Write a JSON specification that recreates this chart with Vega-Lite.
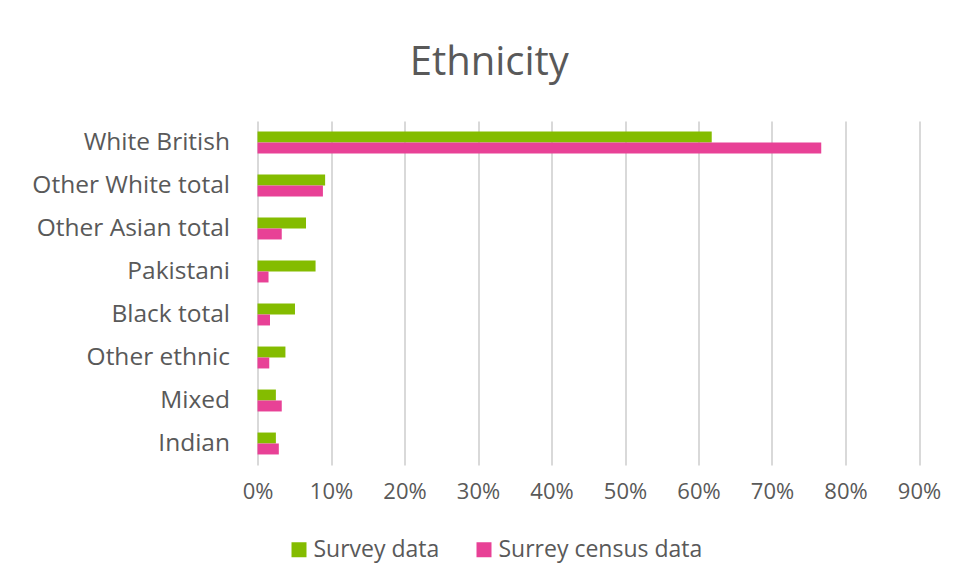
{
  "$schema": "https://vega.github.io/schema/vega-lite/v6.json",
  "autosize": "none",
  "width": 661.5,
  "height": 344,
  "padding": {"left": 257.5, "top": 121, "right": 39, "bottom": 116},
  "background": "white",
  "title": {
    "text": "Ethnicity",
    "fontSize": 40,
    "font": "Open Sans",
    "fontWeight": "normal",
    "color": "#595959",
    "anchor": "middle",
    "dx": -99,
    "offset": 38
  },
  "data": {
    "values": [
      {"ethnicity": "White British", "series": "Survey data", "value": 0.618},
      {"ethnicity": "White British", "series": "Surrey census data", "value": 0.767},
      {"ethnicity": "Other White total", "series": "Survey data", "value": 0.092},
      {"ethnicity": "Other White total", "series": "Surrey census data", "value": 0.089},
      {"ethnicity": "Other Asian total", "series": "Survey data", "value": 0.066},
      {"ethnicity": "Other Asian total", "series": "Surrey census data", "value": 0.033},
      {"ethnicity": "Pakistani", "series": "Survey data", "value": 0.079},
      {"ethnicity": "Pakistani", "series": "Surrey census data", "value": 0.015},
      {"ethnicity": "Black total", "series": "Survey data", "value": 0.051},
      {"ethnicity": "Black total", "series": "Surrey census data", "value": 0.017},
      {"ethnicity": "Other ethnic", "series": "Survey data", "value": 0.038},
      {"ethnicity": "Other ethnic", "series": "Surrey census data", "value": 0.016},
      {"ethnicity": "Mixed", "series": "Survey data", "value": 0.025},
      {"ethnicity": "Mixed", "series": "Surrey census data", "value": 0.033},
      {"ethnicity": "Indian", "series": "Survey data", "value": 0.025},
      {"ethnicity": "Indian", "series": "Surrey census data", "value": 0.029}
    ]
  },
  "mark": {"type": "bar"},
  "encoding": {
    "y": {
      "field": "ethnicity",
      "type": "nominal",
      "sort": ["White British", "Other White total", "Other Asian total", "Pakistani", "Black total", "Other ethnic", "Mixed", "Indian"],
      "scale": {"paddingInner": 0.49, "paddingOuter": 0.245},
      "axis": {
        "title": null,
        "ticks": false,
        "domain": false,
        "labelFontSize": 24.5,
        "labelFont": "Open Sans",
        "labelColor": "#595959",
        "labelPadding": 28,
        "labelLimit": 300
      }
    },
    "yOffset": {
      "field": "series",
      "type": "nominal",
      "sort": ["Survey data", "Surrey census data"]
    },
    "x": {
      "field": "value",
      "type": "quantitative",
      "scale": {"domain": [0, 0.9], "nice": false},
      "axis": {
        "title": null,
        "format": ".0%",
        "values": [0, 0.1, 0.2, 0.3, 0.4, 0.5, 0.6, 0.7, 0.8, 0.9],
        "ticks": false,
        "domain": false,
        "grid": true,
        "gridColor": "#d9d9d9",
        "gridWidth": 2,
        "labelFontSize": 22,
        "labelFont": "Open Sans",
        "labelColor": "#595959",
        "labelPadding": 16,
        "labelFlush": false,
        "labelOverlap": false
      }
    },
    "color": {
      "field": "series",
      "type": "nominal",
      "sort": ["Survey data", "Surrey census data"],
      "scale": {"domain": ["Survey data", "Surrey census data"], "range": ["#84bc00", "#e84196"]},
      "legend": {
        "title": null,
        "orient": "none",
        "direction": "horizontal",
        "legendX": 30,
        "legendY": 417,
        "symbolType": "square",
        "symbolSize": 225,
        "symbolStrokeWidth": 0,
        "labelFontSize": 23,
        "labelFont": "Open Sans",
        "labelColor": "#595959",
        "labelOffset": 3,
        "labelLimit": 400,
        "columnPadding": 33
      }
    }
  },
  "config": {
    "view": {"stroke": null}
  }
}
